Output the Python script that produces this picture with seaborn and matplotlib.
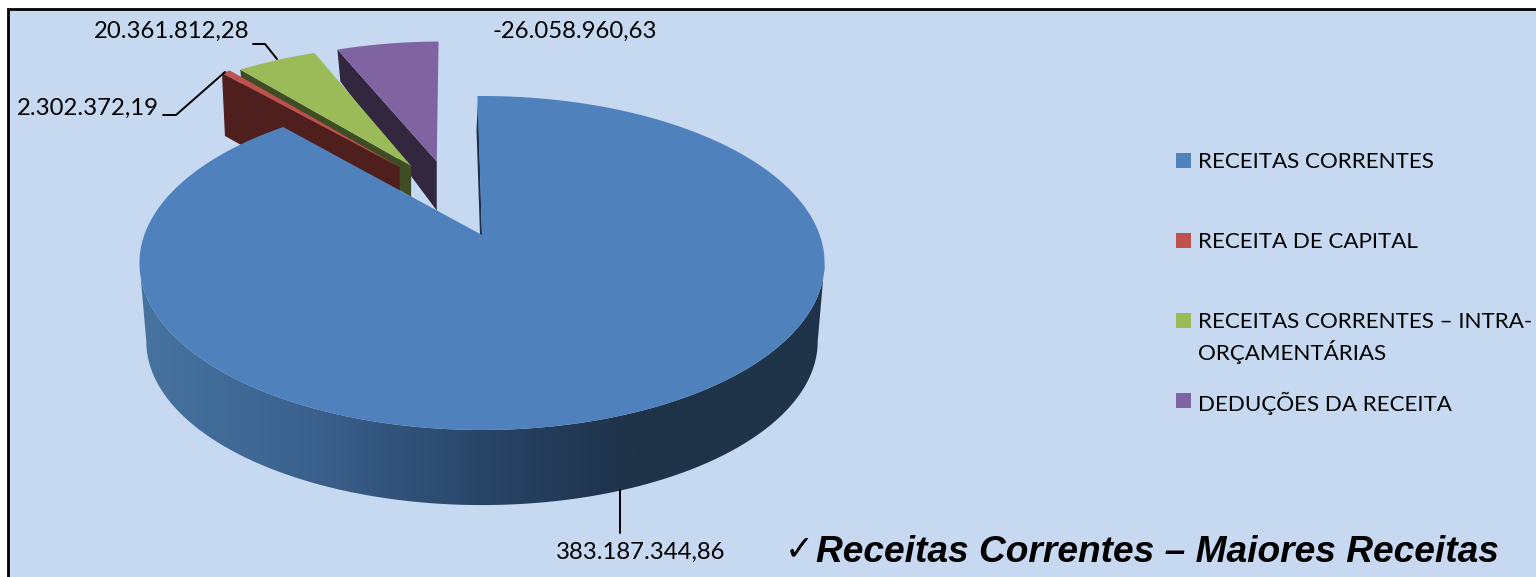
import numpy as np
import matplotlib
matplotlib.use('Agg')
import matplotlib.pyplot as plt
from matplotlib.colors import LinearSegmentedColormap
from matplotlib.patches import Polygon, Rectangle
import seaborn as sns

# dados
categorias = ['RECEITAS CORRENTES', 'RECEITA DE CAPITAL',
              'RECEITAS CORRENTES – INTRA-\nORÇAMENTÁRIAS', 'DEDUÇÕES DA RECEITA']
valores = [383187344.86, 2302372.19, 20361812.28, -26058960.63]
rotulos = ['383.187.344,86', '2.302.372,19', '20.361.812,28', '-26.058.960,63']
titulo = 'Receitas Correntes – Maiores Receitas'

sns.set_theme(style='white')
cores = sns.color_palette(['#4F81BD', '#C0504D', '#9BBB59', '#8064A2'])
cores_lado = ['#1E3048', '#4F1F1E', '#3F4D24', '#33273F']
fundo = '#C6D9F1'

# geometria da pizza 3D (em pixels da imagem)
CX, CY = 482, 235
R, H, K = 337.7, 162.3, 0.1676
ROT = -0.9


def proj(u, v, dz=0.0, enc=1.0):
    s = enc / (1 + K * v)
    return np.column_stack([CX + R * u * s, CY - H * v * s + dz])


def arco(a0, a1, n=200):
    t = np.radians(np.linspace(a0, a1, n))
    return np.sin(t), np.cos(t)


fig = plt.figure(figsize=(15.36, 5.77), dpi=100)
ax = fig.add_axes([0, 0, 1, 1])
ax.set_xlim(0, 1536)
ax.set_ylim(577, 0)
ax.axis('off')
ax.add_patch(Rectangle((8, 9), 1540, 600, fc=fundo, ec='black', lw=2))

# angulos a partir dos valores
abs_val = np.abs(valores)
angs = np.concatenate([[0], np.cumsum(abs_val) / abs_val.sum() * 360]) + ROT

# fatias destacadas: deslocamento (u, v) e altura do lado (vertice, borda)
desloc = {3: (-0.145, 0.49, 49, 32), 2: (-0.226, 0.458, 31, 28), 1: (-0.262, 0.45, 66, 63)}
for i in [3, 2, 1]:
    du, dv, h_ap, h_ext = desloc[i]
    u, v = arco(angs[i], angs[i + 1], 30)
    ext = proj(du + u, dv + v)
    ap = proj(np.array([du]), np.array([dv]))
    lado = np.array([ext[0], ap[0], ap[0] + [0, h_ap], ext[0] + [3, h_ext]])
    ax.add_patch(Polygon(lado, fc=cores_lado[i], ec='none', zorder=2))
    ax.add_patch(Polygon(np.vstack([ap, ext]), fc=cores[i], ec='none', zorder=3))

# lado da fatia principal com degrade
a_ext = np.degrees(np.arccos(-K))
u, v = arco(a_ext, 360 - a_ext)
topo = proj(u, v)
baixo = proj(u, v, dz=79, enc=0.98)
lado = Polygon(np.vstack([topo, baixo[::-1]]), fc='none', ec='none', zorder=4)
ax.add_patch(lado)
cmap = LinearSegmentedColormap.from_list('lado', [(0, '#47739F'), (0.23, '#3C6390'), (0.45, '#2C4B6F'),
                                                  (0.6, '#243B5A'), (0.72, '#1F3349'), (1, '#1F3349')])
grad = np.linspace(0, 1, 256)[np.newaxis, :]
im = ax.imshow(grad, extent=[140, 825, 577, 0], aspect='auto', cmap=cmap, zorder=4, interpolation='bilinear')
im.set_clip_path(lado)
ax.set_xlim(0, 1536)
ax.set_ylim(577, 0)

# parede interna fina e face superior
ax.add_patch(Polygon([[478, 100], [482, 235], [480, 235], [476.5, 130]], fc=cores_lado[0], ec='none', zorder=5))
u, v = arco(angs[0], angs[1], 400)
face = proj(np.append(u, 0), np.append(v, 0))
ax.add_patch(Polygon(face, fc=cores[0], ec='none', zorder=6))

# linhas de chamada e rotulos
ax.plot([620, 620], [490, 533], color='black', lw=1.4, zorder=7)
ax.plot([163, 176, 225], [115, 115, 72], color='black', lw=1.4, zorder=7)
ax.plot([253, 265, 277], [44, 44, 59], color='black', lw=1.4, zorder=7)
fonte = 'Lato'
ax.text(640.5, 552, rotulos[0], ha='center', va='center', fontsize=17.2, family=fonte, color='black')
ax.text(88, 108, rotulos[1], ha='center', va='center', fontsize=17.2, family=fonte, color='black')
ax.text(171.5, 31, rotulos[2], ha='center', va='center', fontsize=17.2, family=fonte, color='black')
ax.text(575, 31, rotulos[3], ha='center', va='center', fontsize=17.2, family=fonte, color='black')

# legenda
ys = [161, 241, 321, 401]
for cat, y, c in zip(categorias, ys, cores):
    ax.add_patch(Rectangle((1176, y - 8), 15, 15, fc=c, ec='none'))
    ax.text(1198, y - 9, cat, ha='left', va='top', fontsize=16.1, family=fonte,
            color='black', linespacing=1.38)

# titulo
ax.text(785, 549, '✓', ha='left', va='center', fontsize=25, family='DejaVu Sans', color='black')
ax.text(816, 552, titulo, ha='left', va='center', fontsize=26.7, family='Liberation Sans',
        fontweight='bold', fontstyle='italic', color='black')

fig.savefig('out.png', dpi=100)
